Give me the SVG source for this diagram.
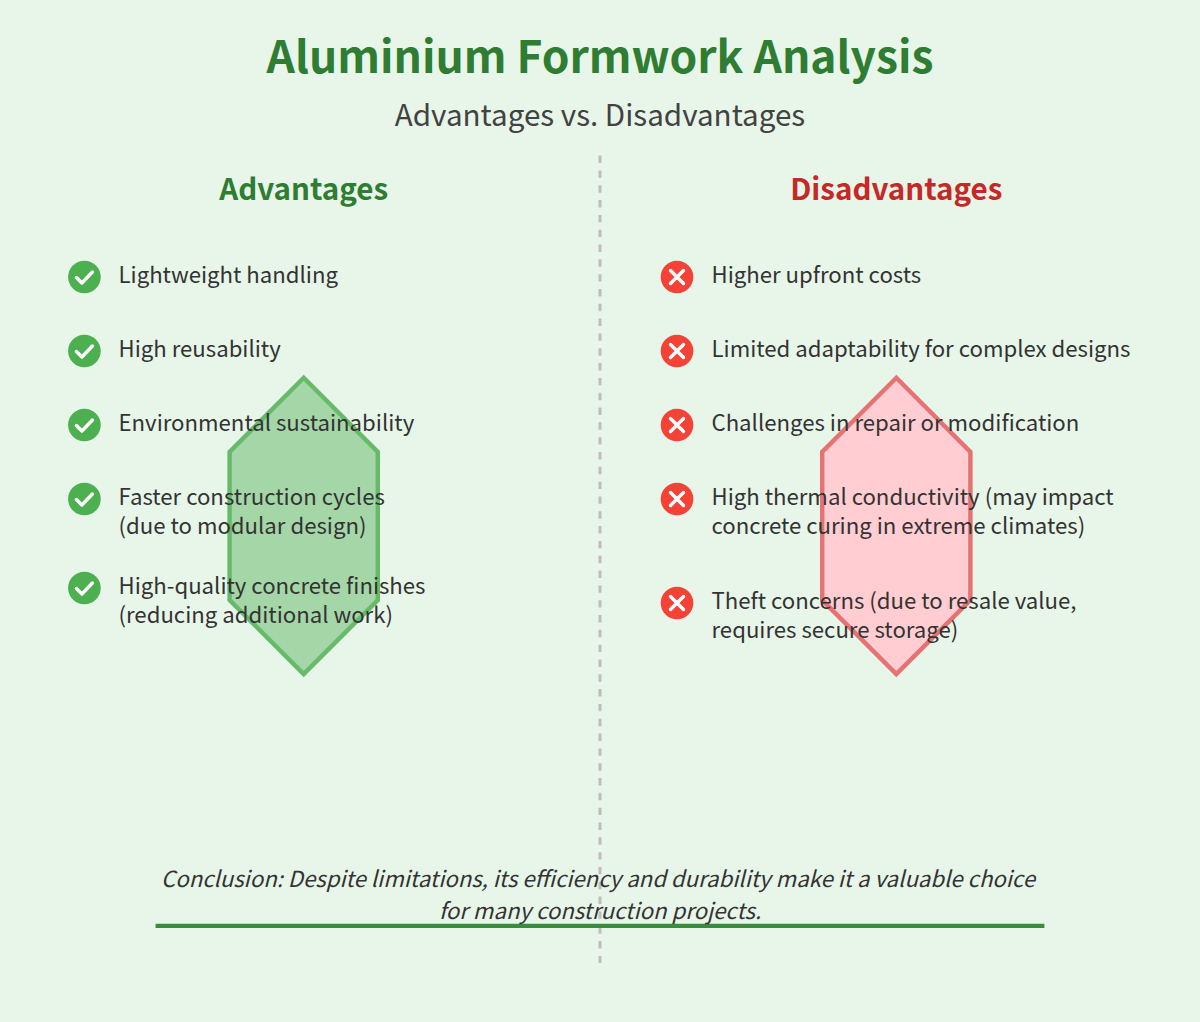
<svg xmlns="http://www.w3.org/2000/svg" width="1200" height="1022" viewBox="0 0 1200 1022">
<style>
text{font-family:"Noto Sans CJK SC","Noto Sans",sans-serif}
.title{font-size:44.38px;font-weight:700;fill:#2e7d32;text-anchor:middle}
.sub{font-size:29.58px;fill:#424242;text-anchor:middle}
.head{font-size:29.58px;font-weight:700;text-anchor:middle}
.item{font-size:22.18px;fill:#333}
.con{font-size:22.18px;font-style:italic;fill:#333;text-anchor:middle}
.ok{fill:#4caf50}.no{fill:#f44336}
.mark{fill:none;stroke:#fff;stroke-width:3.4;stroke-linecap:round;stroke-linejoin:round}
</style>
<defs>
<g id="check"><circle class="ok" r="16.3"/><path class="mark" d="M-8,0.5L-2.5,6L8,-5"/></g>
<g id="cross"><circle class="no" r="16.3"/><path class="mark" d="M-6.5,-6.5L6.5,6.5M6.5,-6.5L-6.5,6.5"/></g>
</defs>
<rect width="1200" height="1022" fill="#e8f5e9"/>
<g id="connectors">
<line x1="600" y1="155.6" x2="600" y2="963" stroke="#bdbdbd" stroke-width="2.96" stroke-dasharray="7.41 7.41"/>
<line x1="155.6" y1="925.9" x2="1044.4" y2="925.9" stroke="#388e3c" stroke-width="4.44"/>
</g>
<g id="shape-advantages"><polygon points="303.7,377.8 377.8,451.9 377.8,600 303.7,674.1 229.6,600 229.6,451.9" fill="#a5d6a7" stroke="#66bb6a" stroke-width="4.44"/></g>
<g id="shape-disadvantages"><polygon points="896.3,377.8 970.4,451.9 970.4,600 896.3,674.1 822.2,600 822.2,451.9" fill="#ffcdd2" stroke="#e57373" stroke-width="4.44"/></g>
<g id="title"><text class="title" x="600" y="73">Aluminium Formwork Analysis</text>
<text class="sub" x="600" y="126">Advantages vs. Disadvantages</text></g>
<g id="advantages-head"><text class="head" x="303.7" y="200" fill="#2e7d32">Advantages</text></g>
<g id="disadvantages-head"><text class="head" x="896.3" y="200" fill="#c62828">Disadvantages</text></g>
<g id="adv1"><use href="#check" x="84.4" y="277"/><text class="item" x="118.5" y="283">Lightweight handling</text></g>
<g id="adv2"><use href="#check" x="84.4" y="351"/><text class="item" x="118.5" y="357">High reusability</text></g>
<g id="adv3"><use href="#check" x="84.4" y="425"/><text class="item" x="118.5" y="431">Environmental sustainability</text></g>
<g id="adv4"><use href="#check" x="84.4" y="499"/><text class="item" x="118.5" y="505">Faster construction cycles</text><text class="item" x="118.5" y="534">(due to modular design)</text></g>
<g id="adv5"><use href="#check" x="84.4" y="588"/><text class="item" x="118.5" y="594">High-quality concrete finishes</text><text class="item" x="118.5" y="623">(reducing additional work)</text></g>
<g id="dis1"><use href="#cross" x="677" y="277"/><text class="item" x="711.5" y="283">Higher upfront costs</text></g>
<g id="dis2"><use href="#cross" x="677" y="351"/><text class="item" x="711.5" y="357">Limited adaptability for complex designs</text></g>
<g id="dis3"><use href="#cross" x="677" y="425"/><text class="item" x="711.5" y="431">Challenges in repair or modification</text></g>
<g id="dis4"><use href="#cross" x="677" y="499"/><text class="item" x="711.5" y="505">High thermal conductivity (may impact</text><text class="item" x="711.5" y="534">concrete curing in extreme climates)</text></g>
<g id="dis5"><use href="#cross" x="677" y="603"/><text class="item" x="711.5" y="609">Theft concerns (due to resale value,</text><text class="item" x="711.5" y="638">requires secure storage)</text></g>
<g id="conclusion"><text class="con" x="598" y="887">Conclusion: Despite limitations, its efficiency and durability make it a valuable choice</text>
<text class="con" x="600" y="918.6">for many construction projects.</text></g>
</svg>
